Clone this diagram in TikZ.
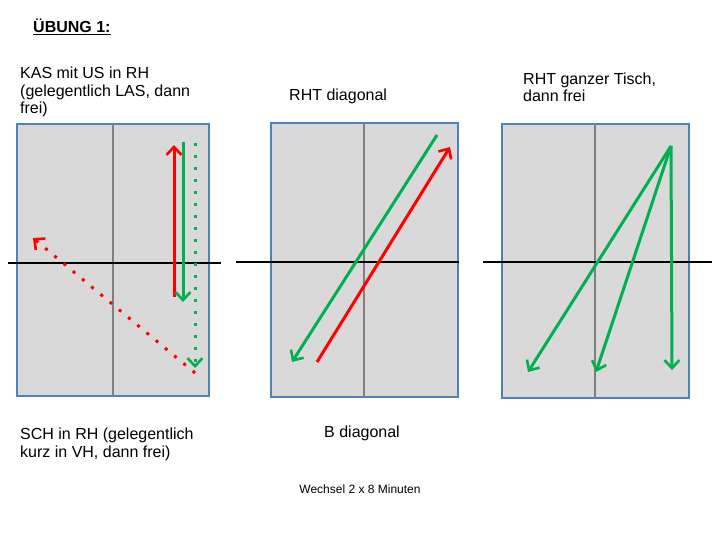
\documentclass[tikz,border=0pt]{standalone}
\usepackage{fontspec}
\setmainfont{Liberation Sans}
\usetikzlibrary{arrows.meta}
\definecolor{tischgrau}{RGB}{217,217,217}
\definecolor{tischblau}{RGB}{79,129,189}
\definecolor{netzgrau}{RGB}{128,128,128}
\definecolor{ballrot}{RGB}{255,0,0}
\definecolor{ballgruen}{RGB}{0,176,80}
\tikzset{
	tisch/.style={fill=tischgrau, draw=tischblau, line width=1.5pt},
	netz/.style={draw=netzgrau, line width=2pt},
	mittellinie/.style={draw=black, line width=1.5pt},
	ball/.style={line width=3pt, -{Straight Barb[length=8pt,width=15pt,line width=2.6pt]}},
	punkte/.style={dash pattern=on 3pt off 9pt},
	beschrift/.style={anchor=base west, inner sep=0pt, align=left, font=\fontsize{16}{17.5}\selectfont}
}

\begin{document}
\begin{tikzpicture}[x=1pt, y=-1pt]
		%%%%% START %%%%%
		\useasboundingbox (0, 0) rectangle (720, 540);
		
		\node[beschrift, font=\fontsize{16}{17.5}\selectfont\bfseries] (titel) at (33, 33) {\underline{ÜBUNG 1:}};
		
		%% Tisch 1 (base = letzte Zeile)
		\node[beschrift] (kas) at (20, 114) {KAS mit US in RH\\(gelegentlich LAS, dann\\frei)};
		\draw[tisch] (17, 124) rectangle (209, 396);
		\draw[netz] (113, 124) -- (113, 396);
		\draw[mittellinie] (8, 263) -- (221, 263);
		
		\coordinate (r1a) at (174, 297);
		\coordinate (r1b) at (174, 145);
		\coordinate (g1a) at (183, 142);
		\coordinate (g1b) at (183, 302);
		\coordinate (g2a) at (195, 143);
		\coordinate (g2b) at (195, 368);
		\coordinate (r2a) at (195, 373);
		\coordinate (r2b) at (33, 238);
		\draw[ball, color=ballrot] (r1a) -- (r1b);
		\draw[ball, color=ballgruen] (g1a) -- (g1b);
		\draw[ball, punkte, color=ballgruen] (g2a) -- (g2b);
		\draw[ball, punkte, color=ballrot] (r2a) -- (r2b);
		
		\node[beschrift] (sch) at (20, 457) {SCH in RH (gelegentlich\\kurz in VH, dann frei)};
		
		%% Tisch 2
		\node[beschrift] (rhtdiag) at (289, 101) {RHT diagonal};
		\draw[tisch] (271, 123) rectangle (458, 397);
		\draw[netz] (364, 123) -- (364, 397);
		\draw[mittellinie] (236, 262) -- (459, 262);
		
		\coordinate (g3a) at (437, 135);
		\coordinate (g3b) at (292, 362);
		\coordinate (r3a) at (317, 362);
		\coordinate (r3b) at (450, 147);
		\draw[ball, color=ballgruen] (g3a) -- (g3b);
		\draw[ball, color=ballrot] (r3a) -- (r3b);
		
		\node[beschrift] (bdiag) at (324, 437) {B diagonal};
		
		%% Tisch 3
		\node[beschrift] (rhtganz) at (523, 102) {RHT ganzer Tisch,\\dann frei};
		\draw[tisch] (502, 124) rectangle (689, 398);
		\draw[netz] (595, 124) -- (595, 398);
		\draw[mittellinie] (483, 262) -- (712, 262);
		
		\coordinate (start) at (671, 146);
		\coordinate (ziel1) at (528, 372);
		\coordinate (ziel2) at (596, 372);
		\coordinate (ziel3) at (672, 370);
		\draw[ball, color=ballgruen] (start) -- (ziel1);
		\draw[ball, color=ballgruen] (start) -- (ziel2);
		\draw[ball, color=ballgruen] (start) -- (ziel3);
		
		\node[anchor=base, inner sep=0pt, font=\fontsize{12}{14}\selectfont] (wechsel) at (360, 493) {Wechsel 2 x 8 Minuten};
		
		%%%%% END %%%%%
	\end{tikzpicture}
\end{document}
